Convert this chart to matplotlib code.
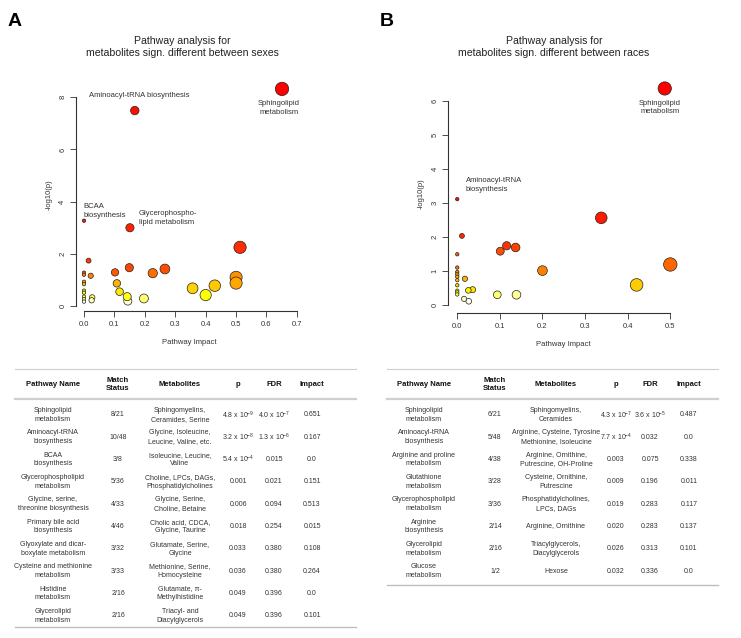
import numpy as np
import matplotlib
matplotlib.use('Agg')
import matplotlib.pyplot as plt
from matplotlib.colors import hsv_to_rgb
from matplotlib.lines import Line2D

plt.rcParams['font.family'] = ['Liberation Sans', 'DejaVu Sans']
plt.rcParams['mathtext.fontset'] = 'custom'
plt.rcParams['mathtext.rm'] = 'Liberation Sans'
plt.rcParams['mathtext.it'] = 'Liberation Sans:italic'
plt.rcParams['mathtext.bf'] = 'Liberation Sans:bold'

# -- Panel A scatter: pathway impact vs -log10(p)
a_impact = [0.651, 0.167, 0.0, 0.151, 0.513, 0.015, 0.149, 0.266, 0.102, 0.226,
            0.022, 0.5, 0.5, 0.108, 0.43, 0.357, 0.117, 0.4, 0.142, 0.197,
            0.144, 0.027, 0.025, 0.0, 0.0, 0.0, 0.0, 0.0, 0.0, 0.0, 0.0, 0.0]
a_logp = [8.32, 7.49, 3.27, 3.0, 2.25, 1.74, 1.47, 1.42, 1.29, 1.26,
          1.16, 1.1, 0.88, 0.87, 0.78, 0.68, 0.55, 0.42, 0.36, 0.29,
          0.19, 0.33, 0.22, 1.28, 1.2, 0.93, 0.84, 0.59, 0.51, 0.36, 0.26, 0.17]

# -- Panel B scatter
b_impact = [0.487, 0.0, 0.338, 0.011, 0.116, 0.137, 0.101, 0.0, 0.5, 0.2,
            0.018, 0.421, 0.026, 0.036, 0.094, 0.139, 0.016, 0.027,
            0.0, 0.0, 0.0, 0.0, 0.0, 0.0, 0.0, 0.0, 0.0]
b_logp = [6.36, 3.11, 2.56, 2.03, 1.74, 1.69, 1.58, 1.49, 1.19, 1.01,
          0.77, 0.59, 0.43, 0.45, 0.30, 0.30, 0.18, 0.11,
          1.1, 0.97, 0.9, 0.83, 0.73, 0.58, 0.42, 0.37, 0.31]

# -- Table A
a_names = ['Sphingolipid\nmetabolism', 'Aminoacyl-tRNA\nbiosynthesis', 'BCAA\nbiosynthesis',
           'Glycerophospholipid\nmetabolism', 'Glycine, serine,\nthreonine biosynthesis',
           'Primary bile acid\nbiosynthesis', 'Glyoxylate and dicar-\nboxylate metabolism',
           'Cysteine and methionine\nmetabolism', 'Histidine\nmetabolism', 'Glycerolipid\nmetabolism']
a_match = ['8/21', '10/48', '3/8', '5/36', '4/33', '4/46', '3/32', '3/33', '2/16', '2/16']
a_metab = ['Sphingomyelins,\nCeramides, Serine', 'Glycine, Isoleucine,\nLeucine, Valine, etc.',
           'Isoleucine, Leucine,\nValine', 'Choline, LPCs, DAGs,\nPhosphatidylcholines',
           'Glycine, Serine,\nCholine, Betaine', 'Cholic acid, CDCA,\nGlycine, Taurine',
           'Glutamate, Serine,\nGlycine', 'Methionine, Serine,\nHomocysteine',
           'Glutamate, \u03c0-\nMethylhistidine', 'Triacyl- and\nDiacylglycerols']
a_p = [r'4.8 x 10$^{-9}$', r'3.2 x 10$^{-8}$', r'5.4 x 10$^{-4}$', '0.001', '0.006',
       '0.018', '0.033', '0.036', '0.049', '0.049']
a_fdr = [r'4.0 x 10$^{-7}$', r'1.3 x 10$^{-6}$', '0.015', '0.021', '0.094',
         '0.254', '0.380', '0.380', '0.396', '0.396']
a_imp = ['0.651', '0.167', '0.0', '0.151', '0.513', '0.015', '0.108', '0.264', '0.0', '0.101']

# -- Table B
b_names = ['Sphingolipid\nmetabolism', 'Aminoacyl-tRNA\nbiosynthesis', 'Arginine and proline\nmetabolism',
           'Glutathione\nmetabolism', 'Glycerophospholipid\nmetabolism', 'Arginine\nbiosynthesis',
           'Glycerolipid\nmetabolism', 'Glucose\nmetabolism']
b_match = ['6/21', '5/48', '4/38', '3/28', '3/36', '2/14', '2/16', '1/2']
b_metab = ['Sphingomyelins,\nCeramides', 'Arginine, Cysteine, Tyrosine\nMethionine, Isoleucine',
           'Arginine, Ornithine,\nPutrescine, OH-Proline', 'Cysteine, Ornithine,\nPutrescine',
           'Phosphatidylcholines,\nLPCs, DAGs', 'Arginine, Ornithine',
           'Triacylglycerols,\nDiacylglycerols', 'Hexose']
b_p = [r'4.3 x 10$^{-7}$', r'7.7 x 10$^{-4}$', '0.003', '0.009', '0.019', '0.020', '0.026', '0.032']
b_fdr = [r'3.6 x 10$^{-5}$', '0.032', '0.075', '0.196', '0.283', '0.283', '0.313', '0.336']
b_imp = ['0.487', '0.0', '0.338', '0.011', '0.117', '0.137', '0.101', '0.0']

headers = ['Pathway Name', 'Match\nStatus', 'Metabolites', 'p', 'FDR', 'Impact']

W, H = 741, 638
fig = plt.figure(figsize=(W / 100, H / 100), dpi=100)


def heat_colors(n):
    # same scheme as R's heat.colors
    j = n // 4
    i = n - j
    cols = [hsv_to_rgb((h, 1, 1)) for h in np.linspace(0, 1 / 6, i)]
    if j > 0:
        cols += [hsv_to_rgb((1 / 6, s, 1)) for s in np.linspace(1 - 1 / (2 * j), 1 / (2 * j), j)]
    return cols


def px_axes(left, right, bottom, top):
    return fig.add_axes([left / W, 1 - bottom / H, (right - left) / W, (bottom - top) / H])


def scatter_panel(ax, impact, logp, xlim, ylim, xticks, yticks):
    x = np.array(impact)
    y = np.array(logp)
    heat = heat_colors(len(y))
    order = np.argsort(-y, kind='stable')
    cols = [None] * len(y)
    for k, idx in enumerate(order):
        cols[idx] = heat[k]
    r = 1.7 + 5 * np.sqrt(x / x.max())
    sizes = (2 * r * 0.72) ** 2
    draw = np.argsort(-sizes, kind='stable')
    ax.scatter(x[draw], y[draw], s=sizes[draw], c=[cols[i] for i in draw],
               edgecolors='#222222', linewidths=0.5, zorder=3, clip_on=False)
    ax.set_xlim(*xlim)
    ax.set_ylim(*ylim)
    ax.set_xticks(xticks)
    ax.set_yticks(yticks)
    ax.set_xticklabels(['%.1f' % t for t in xticks])
    ax.set_yticklabels(['%d' % t for t in yticks], rotation=90, va='center')
    for s in ['top', 'right']:
        ax.spines[s].set_visible(False)
    ax.spines['left'].set_bounds(yticks[0], yticks[-1])
    ax.spines['bottom'].set_bounds(xticks[0], xticks[-1])
    for s in ['left', 'bottom']:
        ax.spines[s].set_color('#333333')
        ax.spines[s].set_linewidth(0.8)
    ax.tick_params(length=4, width=0.6, color='#333333', labelsize=5.5,
                   labelcolor='#333333', pad=3)
    ax.set_xlabel('Pathway Impact', fontsize=5.5, color='#333333', labelpad=8)
    ax.set_ylabel('-log10(p)', fontsize=5.5, color='#333333', labelpad=5)
    ax.patch.set_alpha(0)


# -- Panel A
axA = px_axes(76, 303, 311, 79)
scatter_panel(axA, a_impact, a_logp, (-0.0263, 0.72), (-0.19, 8.7),
              [0, 0.1, 0.2, 0.3, 0.4, 0.5, 0.6, 0.7], [0, 2, 4, 6, 8])
lab = dict(fontsize=5.5, color='#333333', linespacing=1.3)
axA.text(0.0155, 8.08, 'Aminoacyl-tRNA biosynthesis', ha='left', va='center', **lab)
axA.text(0.641, 7.59, 'Sphingolipid\nmetabolism', ha='center', va='center', **lab)
axA.text(-0.003, 3.64, 'BCAA\nbiosynthesis', ha='left', va='center', **lab)
axA.text(0.181, 3.37, 'Glycerophospho-\nlipid metabolism', ha='left', va='center', **lab)

# -- Panel B
axB = px_axes(448.3, 678.8, 313, 75.2)
scatter_panel(axB, b_impact, b_logp, (-0.021, 0.52), (-0.235, 6.75),
              [0, 0.1, 0.2, 0.3, 0.4, 0.5], [0, 1, 2, 3, 4, 5, 6])
axB.text(0.476, 5.80, 'Sphingolipid\nmetabolism', ha='center', va='center', **lab)
axB.text(0.0197, 3.52, 'Aminoacyl-tRNA\nbiosynthesis', ha='left', va='center', **lab)

# -- overlay in pixel coordinates for titles, letters and tables
ov = fig.add_axes([0, 0, 1, 1])
ov.set_xlim(0, W)
ov.set_ylim(H, 0)
ov.axis('off')

ov.text(8, 22, 'A', fontsize=14, fontweight='bold', ha='left', va='center')
ov.text(380, 22, 'B', fontsize=14, fontweight='bold', ha='left', va='center')
ov.text(182, 47, 'Pathway analysis for\nmetabolites sign. different between sexes',
        fontsize=7.6, ha='center', va='center', linespacing=1.25, color='#222222')
ov.text(554, 47, 'Pathway analysis for\nmetabolites sign. different between races',
        fontsize=7.6, ha='center', va='center', linespacing=1.25, color='#222222')


def draw_table(x0, x1, col_x, cols, bottom):
    ov.add_line(Line2D([x0, x1], [369, 369], color='#cfcfcf', lw=0.8))
    ov.add_line(Line2D([x0, x1], [399, 399], color='#cfcfcf', lw=1.6))
    ov.add_line(Line2D([x0, x1], [bottom, bottom], color='#bdbdbd', lw=1.0))
    for cx, h in zip(col_x, headers):
        ov.text(cx, 384, h, fontsize=5.5, fontweight='bold', ha='center', va='center',
                linespacing=1.2, color='#111111')
    n = len(cols[0])
    for r in range(n):
        cy = 415 + r * 22.3
        for cx, col in zip(col_x, cols):
            ov.text(cx, cy, col[r], fontsize=5, ha='center', va='center',
                    linespacing=1.35, color='#333333')


draw_table(15, 356, [53, 118, 180, 238, 274, 312],
           [a_names, a_match, a_metab, a_p, a_fdr, a_imp], 627)
draw_table(387, 718, [424, 495, 556, 616, 650, 689],
           [b_names, b_match, b_metab, b_p, b_fdr, b_imp], 585)

fig.savefig('out.png', dpi=100)
